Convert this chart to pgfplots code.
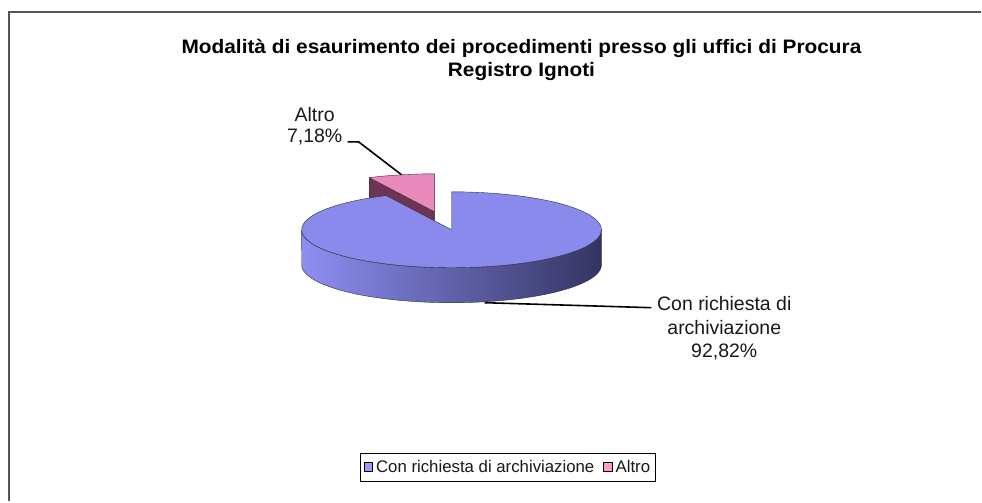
\documentclass[border=0pt]{standalone}
\usepackage{pgfplots}
\pgfplotsset{compat=1.18}
\usepackage{fontspec}
\usepackage{graphicx}
\setmainfont{Liberation Sans}
\definecolor{bluetop}{RGB}{138,138,236}
\definecolor{bluelight}{RGB}{142,142,242}
\definecolor{bluemid}{RGB}{112,112,200}
\definecolor{bluedark}{RGB}{52,52,98}
\definecolor{pinktop}{RGB}{234,138,188}
\definecolor{pinkside}{RGB}{110,52,82}
\definecolor{edgec}{RGB}{45,45,60}
\definecolor{legblue}{RGB}{153,153,255}
\definecolor{legpink}{RGB}{255,153,204}
\definecolor{framec}{RGB}{85,85,85}
\definecolor{txt}{RGB}{25,25,25}
% data (percent)
\def\valA{92.82}
\def\valB{7.18}
% geometry in pixel units
\def\cx{452}\def\cy{230}\def\rx{150}\def\ry{38}\def\h{35}
\def\dx{-17}\def\dy{-18}
\pgfmathsetmacro\angA{\valA*3.6}
\pgfmathsetmacro\pax{\cx+\dx}
\pgfmathsetmacro\pay{\cy+\dy}
\pgfmathsetmacro\plx{\pax+\rx*sin(\angA)}
\pgfmathsetmacro\ply{\pay-\ry*cos(\angA)}
\pgfmathsetmacro\plyb{\ply+\h}
\pgfmathsetmacro\payb{\pay+\h}
\newcommand\tsx[1]{\scalebox{1.07}[1]{#1}}
\begin{document}
\begin{tikzpicture}
\begin{axis}[
  scale only axis, width=982pt, height=502pt,
  xmin=0, xmax=982, ymin=0, ymax=502, y dir=reverse,
  hide axis, clip=false,
  legend style={at={(axis cs:508.5,467.5)}, anchor=center, legend columns=2,
    draw=black, line width=0.7pt, fill=white,
    font=\fontsize{16.8}{19}\selectfont\color{txt},
    inner xsep=3pt, inner ysep=5pt,
    /tikz/every even column/.append style={column sep=7pt},
    /tikz/every odd column/.append style={column sep=1pt}},
  legend image code/.code={\draw[#1, draw=black, line width=0.9pt] (0pt,-4.2pt) rectangle (8.4pt,4.2pt);},
]
% background / bounding box
\addplot[draw=none, fill=white, forget plot] coordinates {(0,0) (982,0) (982,502) (0,502)} -- cycle;
% frame
\addplot[framec, line width=2pt, forget plot] coordinates {(9.5,502) (9.5,12) (982,12)};
% pink slice (exploded): cut face
\addplot[fill=pinkside, draw=edgec, line width=0.4pt, forget plot]
  coordinates {(\pax,\pay) (\plx,\ply) (\plx,\plyb) (\pax,\payb)} -- cycle;
% pink slice top
\addplot[fill=pinktop, draw=edgec, line width=0.4pt, forget plot, variable=\t, domain=\angA:360, samples=30]
  ({\pax+\rx*sin(\t)}, {\pay-\ry*cos(\t)}) -- (\pax,\pay) -- cycle;
% blue slice side (front half)
\addplot[left color=bluelight, middle color=bluemid, right color=bluedark, draw=edgec, line width=0.4pt,
  forget plot, variable=\t, domain=0:2, samples=181]
  ({\cx+\rx*sin((\t<1) ? (90+180*\t) : (270-180*(\t-1)))},
   {\cy-\ry*cos((\t<1) ? (90+180*\t) : (270-180*(\t-1))) + ((\t<1) ? 0 : \h)}) -- cycle;
% blue slice top
\addplot[fill=bluetop, draw=edgec, line width=0.4pt, forget plot, variable=\t, domain=0:\angA, samples=150]
  ({\cx+\rx*sin(\t)}, {\cy-\ry*cos(\t)}) -- (\cx,\cy) -- cycle;
% leader lines
\addplot[black, line width=1.6pt, forget plot] coordinates {(348,142) (359,142) (402,175)};
\addplot[black, line width=1.6pt, forget plot] coordinates {(485,303) (652,308)};
% labels
\node[anchor=base, font=\fontsize{19.5}{23}\selectfont, text=txt, inner sep=0pt] at (axis cs:315,121.7) {Altro};
\node[anchor=base, font=\fontsize{19.5}{23}\selectfont, text=txt, inner sep=0pt] at (axis cs:315,143) {7,18\%};
\node[anchor=base, font=\fontsize{19.5}{23}\selectfont, text=txt, inner sep=0pt] at (axis cs:725,311) {Con richiesta di};
\node[anchor=base, font=\fontsize{19.5}{23}\selectfont, text=txt, inner sep=0pt] at (axis cs:725,335) {archiviazione};
\node[anchor=base, font=\fontsize{19.5}{23}\selectfont, text=txt, inner sep=0pt] at (axis cs:725,358) {92,82\%};
% title
\node[anchor=base, font=\fontsize{19.5}{23}\selectfont\bfseries, inner sep=0pt] at (axis cs:522,54) {\tsx{Modalità di esaurimento dei procedimenti presso gli uffici di Procura}};
\node[anchor=base, font=\fontsize{19.5}{23}\selectfont\bfseries, inner sep=0pt] at (axis cs:522,77) {\tsx{Registro Ignoti}};
% legend
\addlegendimage{fill=legblue}
\addlegendentry{Con richiesta di archiviazione}
\addlegendimage{fill=legpink}
\addlegendentry{Altro}
\end{axis}
\end{tikzpicture}
\end{document}
